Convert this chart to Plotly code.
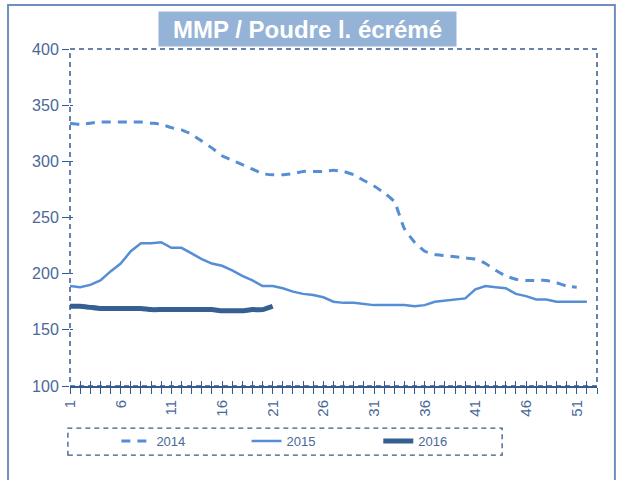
import plotly.graph_objects as go

# Weekly skim milk powder prices (week number -> price)
weeks = list(range(1, 54))
x_tick_labels = [1, 6, 11, 16, 21, 26, 31, 36, 41, 46, 51]
y_tick_labels = [100, 150, 200, 250, 300, 350, 400]

prix_2014 = [334, 333, 334, 335, 335, 335, 335, 335, 334, 333,
             330, 328, 324, 318, 312, 305, 301, 297, 293, 289,
             288, 288, 289, 291, 291, 291, 292, 291, 288, 283,
             278, 272, 264, 240, 228, 220, 217, 216, 215, 214,
             213, 209, 203, 198, 195, 194, 194, 194, 192, 189,
             188]
prix_2015 = [189, 188, 190, 194, 202, 209, 220, 227, 227, 228,
             223, 223, 218, 213, 209, 207, 203, 198, 194, 189,
             189, 187, 184, 182, 181, 179, 175, 174, 174, 173,
             172, 172, 172, 172, 171, 172, 175, 176, 177, 178,
             186, 189, 188, 187, 182, 180, 177, 177, 175, 175,
             175, 175]
prix_2016 = [171, 171, 170, 169, 169, 169, 169, 169, 168, 168,
             168, 168, 168, 168, 168, 167, 167, 167, 168, 168,
             171]

LIGHT = "#558ed5"
DARK = "#376092"
AXIS = "#355a8e"
LABEL = "#4a6898"
FONT = "Liberation Sans, Arial, sans-serif"

fig = go.Figure()
fig.add_trace(go.Scatter(x=weeks[:len(prix_2014)], y=prix_2014, name="2014", mode="lines",
                         legend="legend",
                         line=dict(color=LIGHT, width=3, dash="9px,7px", shape="spline", smoothing=0.5)))
fig.add_trace(go.Scatter(x=weeks[:len(prix_2015)], y=prix_2015, name="2015", mode="lines",
                         legend="legend2",
                         line=dict(color=LIGHT, width=2.5)))
fig.add_trace(go.Scatter(x=weeks[:len(prix_2016)], y=prix_2016, name="2016", mode="lines",
                         legend="legend3",
                         line=dict(color=DARK, width=5, shape="spline", smoothing=0.4)))

# invisible trace carrying the inner half of the crossing tick marks
fig.add_trace(go.Scatter(x=[1], y=[100], xaxis="x2", yaxis="y2", showlegend=False,
                         mode="markers", marker=dict(opacity=0), hoverinfo="skip"))

legend_style = dict(orientation="h", y=-0.163, xanchor="left", yanchor="middle",
                    font=dict(size=13, color=LABEL, family=FONT), bgcolor="rgba(0,0,0,0)")

fig.update_layout(
    width=622, height=480,
    margin=dict(l=70, r=25, t=49, b=94),
    paper_bgcolor="white", plot_bgcolor="white",
    font=dict(family=FONT, color=LABEL),
    xaxis=dict(range=[1, 53], tickvals=x_tick_labels, ticktext=[str(v) for v in x_tick_labels],
               tickangle=-90, tickfont=dict(size=15, color=LABEL),
               ticks="outside", ticklen=6, tickwidth=1.3, tickcolor=AXIS,
               minor=dict(dtick=1, tick0=1, ticks="outside", ticklen=6, tickwidth=1.3, tickcolor=AXIS),
               showline=True, linecolor=AXIS, linewidth=2, showgrid=False, zeroline=False,
               fixedrange=True),
    yaxis=dict(range=[100, 400], tickvals=y_tick_labels, tickfont=dict(size=16, color=LABEL),
               ticks="outside", ticklen=7, tickwidth=1.3, tickcolor=AXIS,
               showline=False, showgrid=False, zeroline=False, fixedrange=True),
    xaxis2=dict(range=[1, 53], overlaying="x", anchor="y2", dtick=1, tick0=1,
                ticks="inside", ticklen=5, tickwidth=1.3, tickcolor=AXIS,
                showticklabels=False, showgrid=False, zeroline=False, showline=False),
    yaxis2=dict(range=[100, 400], overlaying="y", anchor="x2", tickvals=y_tick_labels,
                ticks="inside", ticklen=3, tickwidth=1.3, tickcolor=AXIS,
                showticklabels=False, showgrid=False, zeroline=False, showline=False),
    legend=dict(x=0.088, **legend_style),
    legend2=dict(x=0.335, **legend_style),
    legend3=dict(x=0.585, **legend_style),
    showlegend=True,
)

# dashed frame around the plotting area
fig.add_shape(type="rect", xref="x domain", yref="y domain", x0=0, x1=1, y0=0, y1=1,
              line=dict(color=AXIS, width=1.5, dash="5px,4px"))
# dashed legend box
fig.add_shape(type="rect", xref="paper", yref="paper", x0=-0.004, x1=0.82, y0=-0.205, y1=-0.125,
              line=dict(color=AXIS, width=1.3, dash="5px,4px"))
# outer chart border
fig.add_shape(type="rect", xref="paper", yref="paper", x0=-0.1176, x1=1.034, y0=-0.35, y1=1.1306,
              line=dict(color="#6f8fc2", width=2))

fig.add_annotation(text="<b>MMP / Poudre l. écrémé</b>", xref="paper", yref="paper",
                   x=0.4507, y=1.0593, xanchor="center", yanchor="middle", showarrow=False,
                   width=295, height=32, bgcolor="#95b3d7",
                   font=dict(size=24, color="white", family=FONT))

fig.write_html("out.html")
